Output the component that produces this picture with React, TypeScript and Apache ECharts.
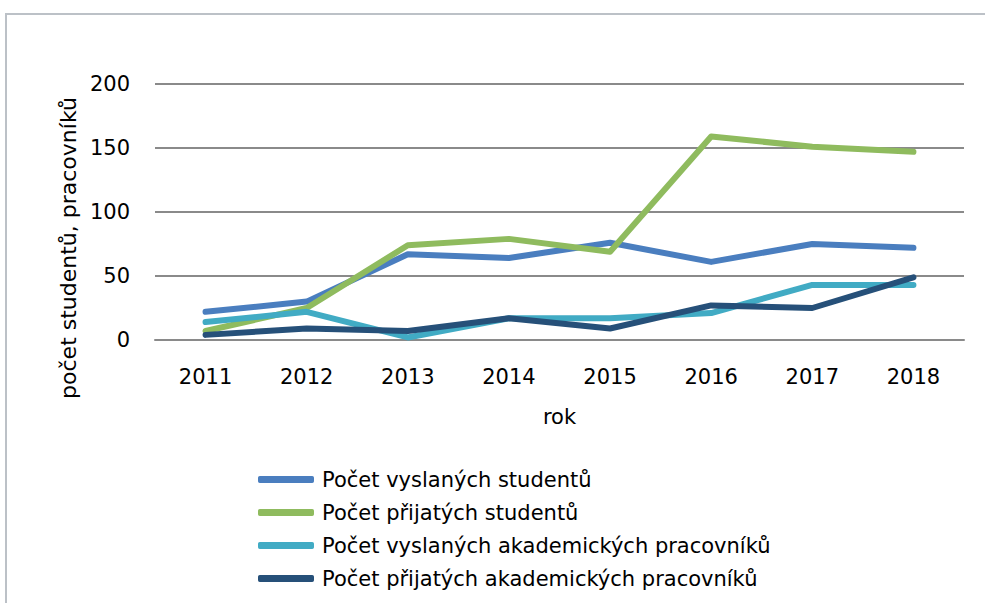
import React, { useEffect, useRef } from "react";
import * as echarts from "echarts";

const years = ["2011", "2012", "2013", "2014", "2015", "2016", "2017", "2018"];
const vyslaniStudenti = [22, 30, 67, 64, 76, 61, 75, 72];
const prijatiStudenti = [7, 25, 74, 79, 69, 159, 151, 147];
const vyslaniAkademici = [14, 22, 2, 17, 17, 21, 43, 43];
const prijatiAkademici = [4, 9, 7, 17, 9, 27, 25, 49];

const seriesNames = [
  "Počet vyslaných studentů",
  "Počet přijatých studentů",
  "Počet vyslaných akademických pracovníků",
  "Počet přijatých akademických pracovníků",
];
const colors = ["#4a7ebf", "#8fbb5e", "#41abc4", "#265079"];

const FONT = "DejaVu Sans";

export default function App() {
  const ref = useRef<HTMLDivElement>(null);
  useEffect(() => {
    document.body.style.margin = "0";
    const chart = echarts.init(ref.current!, null, { renderer: "svg" });
    const data = [vyslaniStudenti, prijatiStudenti, vyslaniAkademici, prijatiAkademici];
    chart.setOption({
      animation: false,
      color: colors,
      textStyle: { fontFamily: FONT },
      grid: { left: 155, right: 21, top: 84, bottom: 263, containLabel: false },
      xAxis: {
        type: "category",
        data: years,
        boundaryGap: true,
        axisTick: { show: false },
        axisLine: { show: true, lineStyle: { color: "#8a8a8a", width: 2 } },
        axisLabel: { color: "#000", fontSize: 21, fontFamily: FONT, margin: 26 },
        name: "rok",
        nameLocation: "middle",
        nameGap: 66,
        nameTextStyle: { color: "#000", fontSize: 21, fontFamily: FONT },
      },
      yAxis: {
        type: "value",
        min: 0,
        max: 200,
        interval: 50,
        axisLine: { show: false },
        axisTick: { show: false },
        splitLine: { lineStyle: { color: "#8a8a8a", width: 2 } },
        axisLabel: { color: "#000", fontSize: 21, fontFamily: FONT, margin: 25 },
      },
      legend: {
        orient: "vertical",
        left: 258,
        top: 469,
        padding: 0,
        itemGap: 12,
        itemWidth: 56,
        itemHeight: 7,
        icon: "roundRect",
        data: seriesNames,
        textStyle: { color: "#000", fontSize: 21, fontFamily: FONT, padding: [0, 0, 0, 3] },
      },
      graphic: [
        {
          type: "rect",
          shape: { x: 6, y: 14, width: 1100, height: 800 },
          style: { fill: "none", stroke: "#bcc1c7", lineWidth: 2 },
          silent: true,
        },
        {
          type: "text",
          x: 68,
          y: 248,
          rotation: Math.PI / 2,
          style: {
            text: "počet studentů, pracovníků",
            fontSize: 22,
            fontFamily: FONT,
            fill: "#000",
            align: "center",
            verticalAlign: "middle",
          },
        },
      ],
      series: seriesNames.map((name, i) => ({
        name,
        type: "line",
        data: data[i],
        symbol: "none",
        lineStyle: { width: 6, cap: "round", join: "round", color: colors[i] },
        itemStyle: { color: colors[i] },
      })),
    });
    return () => chart.dispose();
  }, []);
  return <div ref={ref} style={{ width: 985, height: 603 }} />;
}
